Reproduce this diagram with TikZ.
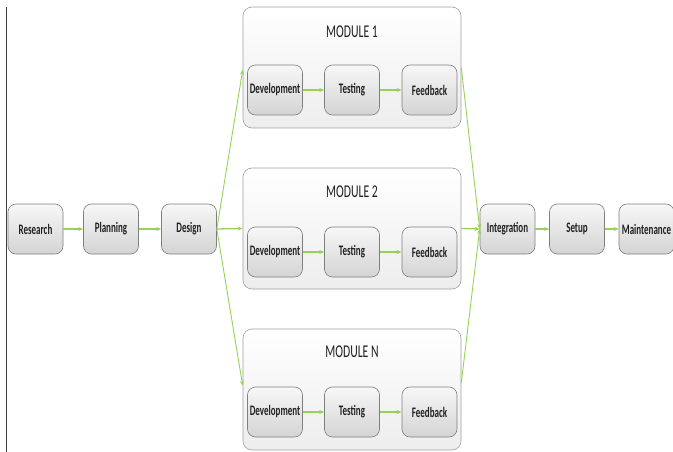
\documentclass[tikz,border=0pt]{standalone}
\usepackage{fontspec}
\setmainfont{Carlito}
\usepackage{graphicx}
\usetikzlibrary{arrows.meta,calc}

\definecolor{flow}{HTML}{97D255}
\definecolor{boxline}{HTML}{7F7F7F}
\definecolor{panelline}{HTML}{A0A0A0}
\definecolor{ink}{HTML}{202020}

\newcommand{\steplabel}[1]{\scalebox{0.62}[1]{\fontsize{14.5}{16}\selectfont\bfseries #1}}
\newcommand{\paneltitle}[1]{\scalebox{0.65}[1]{\fontsize{18}{20}\selectfont #1}}

\tikzset{
  stepbox/.style={draw=boxline, line width=0.6pt, rounded corners=8pt,
    top color=black!3, bottom color=black!17, minimum width=55pt,
    minimum height=50pt, inner sep=0pt, text=ink},
  panel/.style={draw=panelline, line width=0.6pt, rounded corners=9pt,
    top color=white, bottom color=black!7, minimum width=218pt,
    minimum height=121pt, inner sep=0pt},
  title/.style={text=ink, inner sep=0pt},
  link/.style={draw=flow, line width=1.3pt, -{Stealth[length=5pt,width=4pt]}},
  fan/.style={draw=flow, line width=0.9pt, -{Stealth[length=5pt,width=4pt]}}
}

\begin{document}
\begin{tikzpicture}[x=1pt,y=-1pt]
\useasboundingbox (0,0) rectangle (673,452);

% margin rule on the left
\draw[black!75, line width=1.2pt] (6.5,7) -- (6.5,452);

% module panels
\node[panel] (m1) at (352,67.5) {};
\node[panel] (m2) at (352,228.5) {};
\node[panel] (mn) at (352,389.5) {};
\node[title] (t1) at (352,32) {\paneltitle{MODULE 1}};
\node[title] (t2) at (352,192) {\paneltitle{MODULE 2}};
\node[title] (tn) at (352,352) {\paneltitle{MODULE N}};

% steps inside each module
\foreach \m/\y in {1/90, 2/252, n/412} {
  \node[stepbox] (dev\m) at (275,\y) {\steplabel{Development}};
  \node[stepbox] (tst\m) at (352,\y) {\steplabel{Testing}};
  \node[stepbox] (fb\m)  at (429.5,\y) {\steplabel{Feedback}};
  \draw[link] (dev\m) -- (tst\m);
  \draw[link] (tst\m) -- (fb\m);
}

% main line
\node[stepbox] (research) at (35.5,229) {\steplabel{Research}};
\node[stepbox] (planning) at (111,229) {\steplabel{Planning}};
\node[stepbox] (design)   at (189,229) {\steplabel{Design}};
\node[stepbox] (integ)    at (507.5,229) {\steplabel{Integration}};
\node[stepbox] (setup)    at (577,229) {\steplabel{Setup}};
\node[stepbox] (maint)    at (646.5,229) {\steplabel{Maintenance}};

\draw[link] (research) -- (planning);
\draw[link] (planning) -- (design);
\draw[link] (integ) -- (setup);
\draw[link] (setup) -- (maint);

% fan-out into the modules
\coordinate (in1) at ($(m1.west |- dev1.north)+(0,5)$);
\coordinate (inn) at ($(mn.west |- devn.north)+(0,-1)$);
\draw[fan] (design.east) -- (in1);
\draw[link] (design.east) -- (m2.west);
\draw[fan] (design.east) -- (inn);

% fan-in to integration
\coordinate (out1) at ($(m1.east |- fb1.north)+(0,3)$);
\coordinate (outn) at ($(mn.east |- fbn.north)+(0,-4)$);
\draw[fan] (out1) -- (integ.west);
\draw[link] (m2.east) -- (integ.west);
\draw[fan] (outn) -- (integ.west);
\end{tikzpicture}
\end{document}
